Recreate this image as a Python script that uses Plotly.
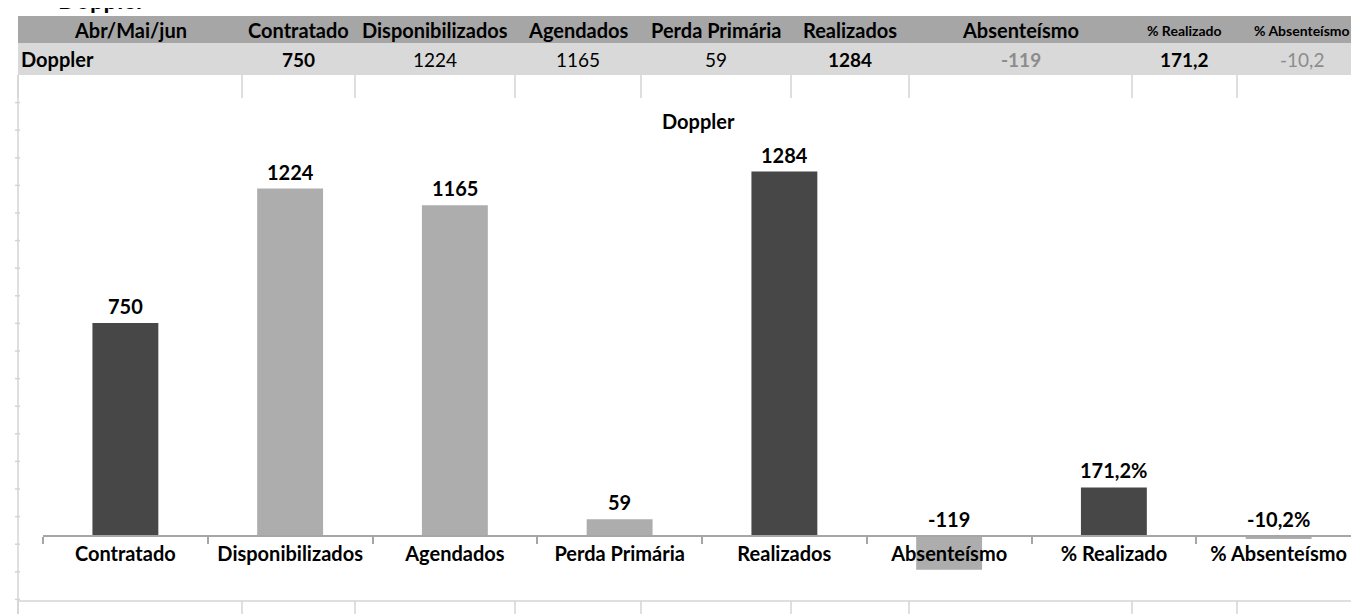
import plotly.graph_objects as go

# ---------------- data ----------------
row_label = "Doppler"
period_label = "Abr/Mai/jun"
categories = ["Contratado", "Disponibilizados", "Agendados", "Perda Primária",
              "Realizados", "Absenteísmo", "% Realizado", "% Absenteísmo"]
values = [750, 1224, 1165, 59, 1284, -119, 171.2, -10.2]
is_percent = [False, False, False, False, False, False, True, True]
dark_flag = [True, False, False, False, True, False, True, False]

W, H = 1359, 614
FONT = "Lato"
DARK = "#474747"
LIGHT = "#adadad"
GRID = "#d4d4d4"


def px(x):
    return x / W


def py(y):
    return 1 - y / H


def fmt(v, pct=False):
    if float(v).is_integer():
        s = str(int(v))
    else:
        s = ("%.1f" % v).replace(".", ",")
    return s + ("%" if pct else "")


# ---------------- spreadsheet background ----------------
col_edges = [10, 234, 347, 507, 633, 783, 901, 1124, 1229, 1359]
shapes = []
annotations = []

# header + data rows
shapes.append(dict(type="rect", xref="paper", yref="paper", x0=px(10), x1=1, y0=py(35), y1=py(8),
                   fillcolor="#a6a6a6", line_width=0, layer="below"))
shapes.append(dict(type="rect", xref="paper", yref="paper", x0=px(10), x1=1, y0=py(67), y1=py(35),
                   fillcolor="#d9d9d9", line_width=0, layer="below"))

# cell grid lines peeking around the chart
for xe in col_edges[:-1]:
    shapes.append(dict(type="line", xref="paper", yref="paper", x0=px(xe), x1=px(xe), y0=py(90), y1=py(67),
                       line=dict(color=GRID, width=1.5), layer="below"))
    shapes.append(dict(type="line", xref="paper", yref="paper", x0=px(xe), x1=px(xe), y0=0, y1=py(593),
                       line=dict(color=GRID, width=1.5), layer="below"))
shapes.append(dict(type="line", xref="paper", yref="paper", x0=px(10), x1=px(10), y0=0, y1=py(67),
                   line=dict(color=GRID, width=1.5), layer="below"))
k = 1
while 67 + 27.6 * k < 593:
    yy = 67 + 27.6 * k
    shapes.append(dict(type="line", xref="paper", yref="paper", x0=px(7), x1=px(12), y0=py(yy), y1=py(yy),
                       line=dict(color=GRID, width=1.5), layer="below"))
    k += 1
shapes.append(dict(type="line", xref="paper", yref="paper", x0=px(10), x1=1, y0=py(593), y1=py(593),
                   line=dict(color=GRID, width=1.5), layer="below"))

# chart area (white)
shapes.append(dict(type="rect", xref="paper", yref="paper", x0=px(12), x1=1, y0=py(592), y1=py(90),
                   fillcolor="white", line_width=0, layer="below"))

# sheet title (cut off at the top, as in the sheet)
annotations.append(dict(text="<b>Doppler</b>", x=px(48), y=1, xref="paper", yref="paper",
                        xanchor="left", yanchor="bottom", yshift=-8, showarrow=False,
                        font=dict(family=FONT, size=24, color="black")))

# header row text
headers = [period_label] + categories
for i, h in enumerate(headers):
    cx = (col_edges[i] + col_edges[i + 1]) / 2
    size = 14 if h.startswith("%") else 20
    annotations.append(dict(text="<b>%s</b>" % h, x=px(cx), y=py(22), xref="paper", yref="paper",
                            xanchor="center", yanchor="middle", showarrow=False,
                            font=dict(family=FONT, size=size, color="black")))

# data row text
annotations.append(dict(text="<b>%s</b>" % row_label, x=px(11), y=py(51), xref="paper", yref="paper",
                        xanchor="left", yanchor="middle", showarrow=False,
                        font=dict(family=FONT, size=20, color="black")))
for i, v in enumerate(values):
    cx = (col_edges[i + 1] + col_edges[i + 2]) / 2
    txt = fmt(v)
    bold = dark_flag[i] or categories[i] == "Absenteísmo"
    color = "#8c8c8c" if v < 0 else "black"
    if bold:
        txt = "<b>%s</b>" % txt
    annotations.append(dict(text=txt, x=px(cx), y=py(51), xref="paper", yref="paper",
                            xanchor="center", yanchor="middle", showarrow=False,
                            font=dict(family=FONT, size=19, color=color)))

# ---------------- chart ----------------
bar_colors = [DARK if d else LIGHT for d in dark_flag]
fig = go.Figure(go.Bar(x=categories, y=values, marker=dict(color=bar_colors, line_width=0), width=0.4))

ymin, ymax = -200, 1400
y_zero, y_top = 528, 163.5          # pixel rows of 0 and of the tallest bar
scale = (y_zero - y_top) / max(values)
d0, d1 = py(y_zero - ymin * scale), py(y_zero - ymax * scale)
axis_pos = d0 + (0 - ymin) / (ymax - ymin) * (d1 - d0)

for i, v in enumerate(values):
    annotations.append(dict(text="<b>%s</b>" % fmt(v, is_percent[i]), x=categories[i], y=max(v, 0),
                            xref="x", yref="y", xanchor="center", yanchor="bottom", yshift=3,
                            showarrow=False, font=dict(family=FONT, size=20, color="black")))

annotations.append(dict(text="<b>Doppler</b>", x=px(690), y=py(113), xref="paper", yref="paper",
                        xanchor="center", yanchor="middle", showarrow=False,
                        font=dict(family=FONT, size=20, color="black")))

fig.update_layout(
    width=W, height=H,
    margin=dict(l=0, r=0, t=0, b=0),
    paper_bgcolor="white", plot_bgcolor="rgba(0,0,0,0)",
    showlegend=False,
    shapes=shapes, annotations=annotations,
    xaxis=dict(domain=[px(35), px(1353)], anchor="free", position=axis_pos,
               showline=True, linecolor="#a6a6a6", linewidth=1.5,
               ticks="outside", tickson="boundaries", ticklen=7, tickcolor="#a6a6a6", tickwidth=1.5,
               showgrid=False, tickfont=dict(family=FONT, size=20, color="black")),
    yaxis=dict(domain=[d0, d1], range=[ymin, ymax], visible=False, showgrid=False, zeroline=False),
    font=dict(family=FONT),
)
# bold tick labels
fig.update_xaxes(tickvals=categories, ticktext=["<b>%s</b>" % c for c in categories])

fig.write_html("out.html")
